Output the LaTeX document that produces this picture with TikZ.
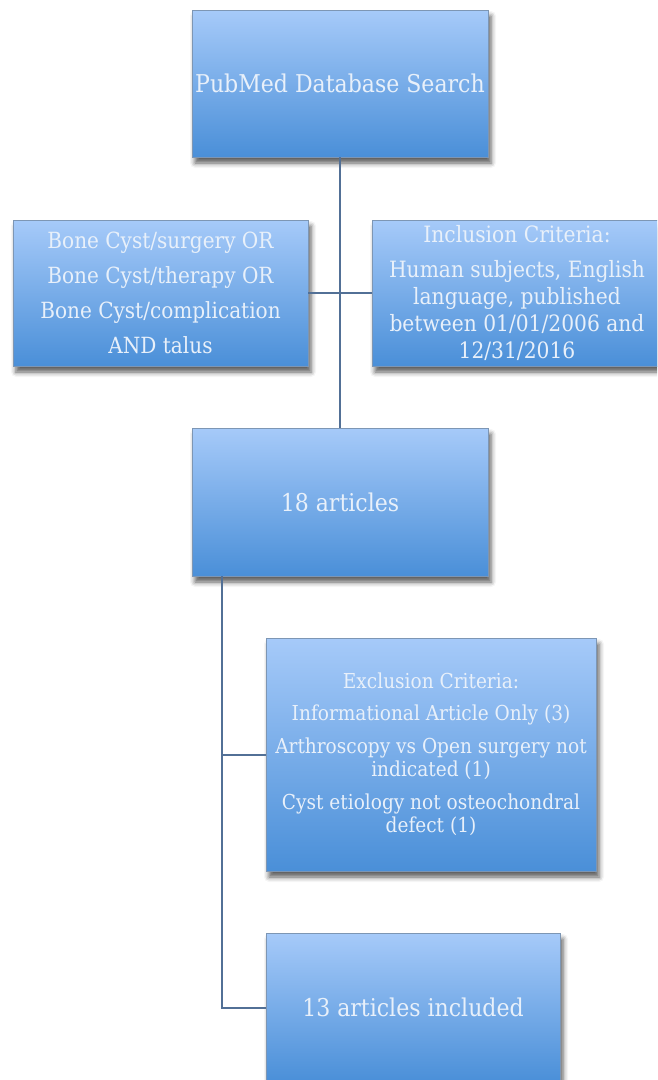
\documentclass[tikz,border=0pt]{standalone}
\usepackage{fontspec}
\setmainfont{DejaVu Serif Condensed}
\usetikzlibrary{shadows.blur}
\definecolor{boxtop}{RGB}{166,202,249}
\definecolor{boxbot}{RGB}{74,143,216}
\definecolor{boxedge}{RGB}{125,150,180}
\definecolor{txt}{RGB}{232,240,250}
\definecolor{link}{RGB}{82,112,150}
\newcommand\fbig{\fontsize{24.5}{32}\selectfont}
\newcommand\fmid{\fontsize{22.3}{27}\selectfont}
\newcommand\frt{\fontsize{22.5}{27}\selectfont}
\newcommand\fsml{\fontsize{20.6}{23.5}\selectfont}
\tikzset{
  flowbox/.style={draw=boxedge, line width=0.8pt, top color=boxtop, bottom color=boxbot,
    inner sep=0pt, align=center, text=txt,
    blur shadow={shadow xshift=3pt, shadow yshift=-6pt, shadow blur radius=5pt, shadow opacity=65}},
  connector/.style={draw=link, line width=2pt}
}
\begin{document}
\begin{tikzpicture}[x=1pt,y=-1pt]
\useasboundingbox (0,0) rectangle (657,1080);
\clip (0,0) rectangle (657,1080);
\node[flowbox, minimum width=296pt, minimum height=147pt, font=\fbig] (pub) at (340,83.5) {PubMed Database Search};
\node[flowbox, minimum width=295pt, minimum height=146pt, font=\fmid] (qry) at (160.5,293)
  {Bone Cyst/surgery OR\\[8pt]Bone Cyst/therapy OR\\[8pt]Bone Cyst/complication\\[8pt]AND talus};
\node[flowbox, minimum width=290pt, minimum height=146pt, font=\frt] (inc) at (517,293)
  {Inclusion Criteria:\\[8pt]Human subjects, English\\language, published\\between 01/01/2006 and\\12/31/2016};
\node[flowbox, minimum width=296pt, minimum height=148pt, font=\fbig] (art) at (340,502) {18 articles};
\node[flowbox, minimum width=330pt, minimum height=233pt, font=\fsml] (exc) at (431,754.5)
  {Exclusion Criteria:\\[9pt]Informational Article Only (3)\\[9pt]Arthroscopy vs Open surgery not\\indicated (1)\\[9pt]Cyst etiology not osteochondral\\defect (1)};
\node[flowbox, minimum width=294pt, minimum height=149pt, font=\fbig] (fin) at (413,1007.5) {13 articles included};
\coordinate (trunk) at (222,576);
\draw[connector] (pub.south) -- (art.north);
\draw[connector] (qry.east) -- (inc.west);
\draw[connector] (trunk) |- (fin.west);
\draw[connector] (trunk |- exc.west) -- (exc.west);
\end{tikzpicture}
\end{document}
